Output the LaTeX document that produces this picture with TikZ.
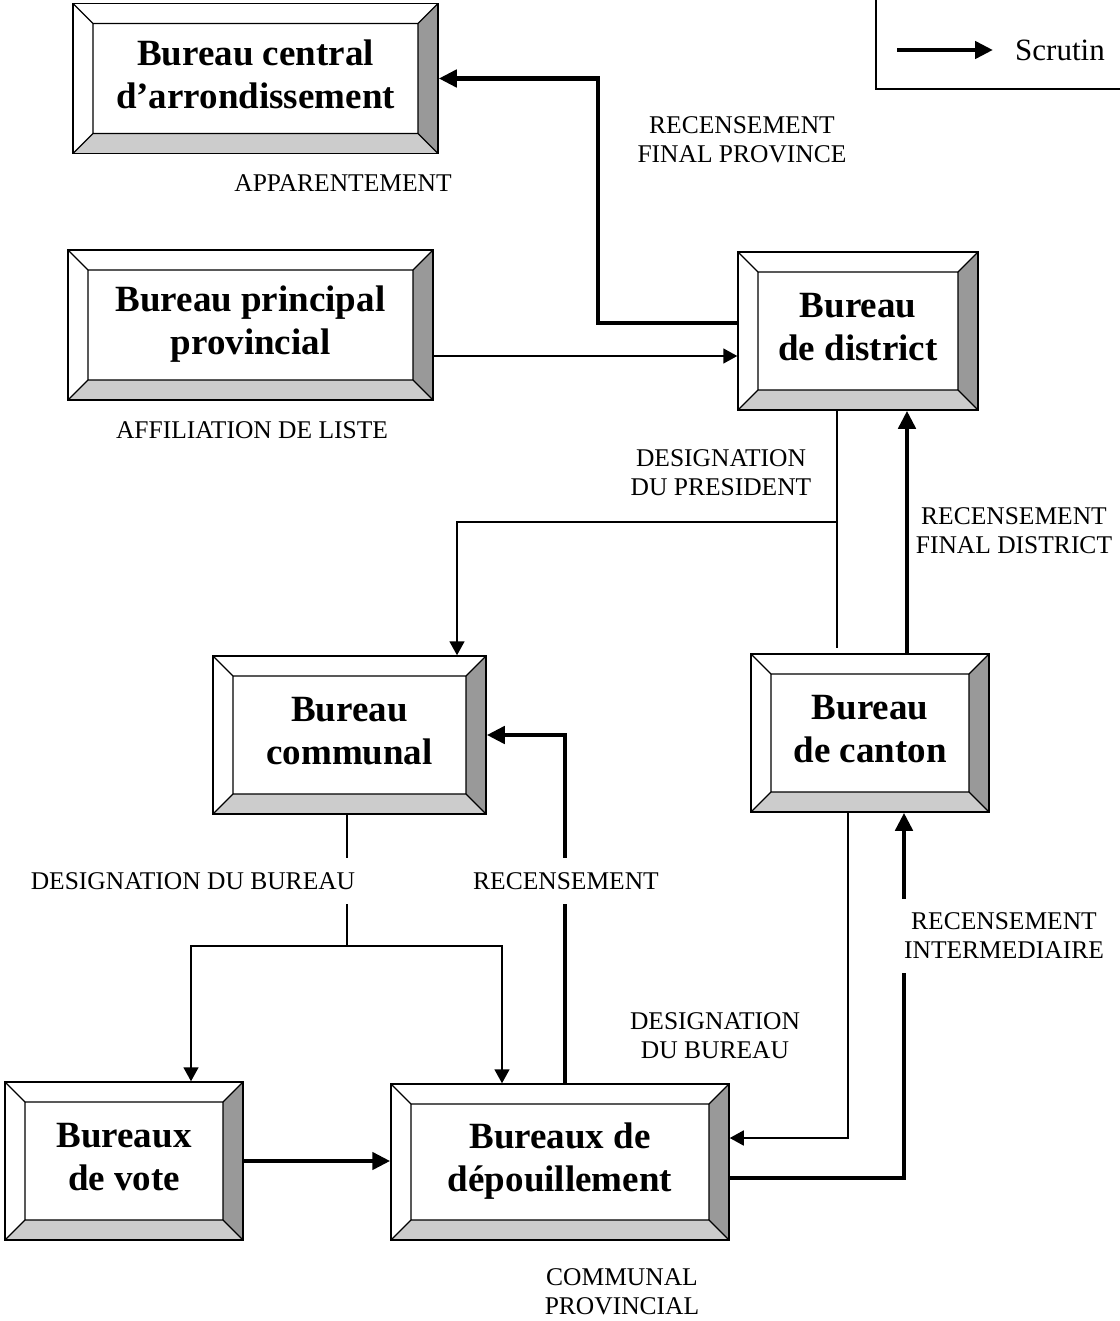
\documentclass[tikz,border=0pt]{standalone}
\usepackage{fontspec}
\setmainfont{Liberation Serif}
\usetikzlibrary{arrows.meta,positioning,calc}
\definecolor{bevdark}{gray}{0.6}
\definecolor{bevlight}{gray}{0.8}
\tikzset{
    bureau/.style={draw, line width=1.5pt, align=center, inner sep=0pt, text depth=9pt,
        font=\bfseries\fontsize{37}{43}\selectfont,
        path picture={
            \coordinate (bA) at (path picture bounding box.south west);
            \coordinate (bB) at (path picture bounding box.south east);
            \coordinate (bC) at (path picture bounding box.north east);
            \coordinate (bD) at (path picture bounding box.north west);
            \coordinate (iA) at ([shift={(20pt,20pt)}]bA);
            \coordinate (iB) at ([shift={(-20pt,20pt)}]bB);
            \coordinate (iC) at ([shift={(-20pt,-20pt)}]bC);
            \coordinate (iD) at ([shift={(20pt,-20pt)}]bD);
            \fill[bevlight] (bA) -- (bB) -- (iB) -- (iA) -- cycle;
            \fill[bevdark] (bB) -- (bC) -- (iC) -- (iB) -- cycle;
            \draw[line width=1.3pt] (iA) rectangle (iC) (bA) -- (iA) (bB) -- (iB) (bC) -- (iC) (bD) -- (iD);
        }},
    scrutin/.style={line width=4.5pt, -{Triangle[length=18pt,width=17pt]}},
    designation/.style={line width=1.7pt, -{Triangle[length=14pt,width=15pt]}},
    annot/.style={font=\fontsize{25.5}{29}\selectfont, align=center, inner sep=0pt},
    annotgap/.style={annot, fill=white, inner xsep=3pt, inner ysep=14pt}
}
\begin{document}
\begin{tikzpicture}[x=1pt, y=-1pt]
    \useasboundingbox (0,0) rectangle (1119,1321);
    \node[bureau, minimum width=365pt, minimum height=150pt] (central) at (255.5,78.5) {Bureau central\\d’arrondissement};
    \node[bureau, minimum width=365pt, minimum height=150pt] (principal) at (250.5,325) {Bureau principal\\provincial};
    \node[bureau, minimum width=240pt, minimum height=158pt] (district) at (858,331) {Bureau\\de district};
    \node[bureau, minimum width=273pt, minimum height=158pt] (communal) at (349.5,735) {Bureau\\communal};
    \node[bureau, minimum width=238pt, minimum height=158pt] (canton) at (870,733) {Bureau\\de canton};
    \node[bureau, minimum width=238pt, minimum height=158pt] (vote) at (124,1161) {Bureaux\\de vote};
    \node[bureau, minimum width=338pt, minimum height=156pt] (depouil) at (560,1162) {Bureaux de\\dépouillement};

    \coordinate (p1) at ([yshift=-31pt]principal.east);
    \coordinate (split) at (837,522);
    \coordinate (fork) at (347,946);

    \draw[scrutin] ([yshift=8pt]district.west) -| ([xshift=159pt]central.east) -- (central.east);
    \draw[designation] (p1) -- (p1 -| district.west);
    \draw[designation, -] ([xshift=-21pt]district.south) -- ([xshift=-33pt, yshift=5pt]canton.north);
    \draw[designation] (split) -| ([xshift=107.5pt]communal.north);
    \draw[scrutin] ([xshift=37pt]canton.north) -- ([xshift=49pt]district.south);
    \draw[designation, -] ([xshift=-2.5pt]communal.south) -- (fork);
    \draw[designation] (fork) -| ([xshift=67pt]vote.north);
    \draw[designation] (fork) -| ([xshift=-58pt]depouil.north);
    \draw[scrutin] ([xshift=5pt]depouil.north) |- (communal.east);
    \draw[scrutin] (vote.east) -- (vote.east -| depouil.west);
    \draw[designation] ([xshift=-22pt]canton.south) |- ([yshift=24pt]depouil.east);
    \draw[scrutin] ([yshift=-16pt]depouil.east) -| ([xshift=34pt]canton.south);

    \node[annot] (finprov) at (742,140) {RECENSEMENT\\FINAL PROVINCE};
    \node[annot] (appar) at (343,183) {APPARENTEMENT};
    \node[annot] (affil) at (252,430) {AFFILIATION DE LISTE};
    \node[annot] (despres) at (721,473) {DESIGNATION\\DU PRESIDENT};
    \node[annotgap] (findist) at (1014,531) {RECENSEMENT\\FINAL DISTRICT};
    \node[annotgap] (desbur) at (193,881) {DESIGNATION DU BUREAU};
    \node[annotgap] (recens) at (566,881) {RECENSEMENT};
    \node[annotgap] (recint) at (1004,936) {RECENSEMENT\\INTERMEDIAIRE};
    \node[annot] (desdep) at (715,1036) {DESIGNATION\\DU BUREAU};
    \node[annot] (commprov) at (622,1292) {COMMUNAL\\PROVINCIAL};

    \draw[line width=1.3pt] (876,-20) rectangle (1140,89);
    \node[font=\fontsize{31}{36}\selectfont, anchor=west, inner sep=0pt] (scrutintxt) at (1015,50) {Scrutin};
    \coordinate (legarrow) at (897,50);
    \draw[scrutin] (legarrow) -- ([xshift=-22pt]scrutintxt.west);
\end{tikzpicture}
\end{document}
